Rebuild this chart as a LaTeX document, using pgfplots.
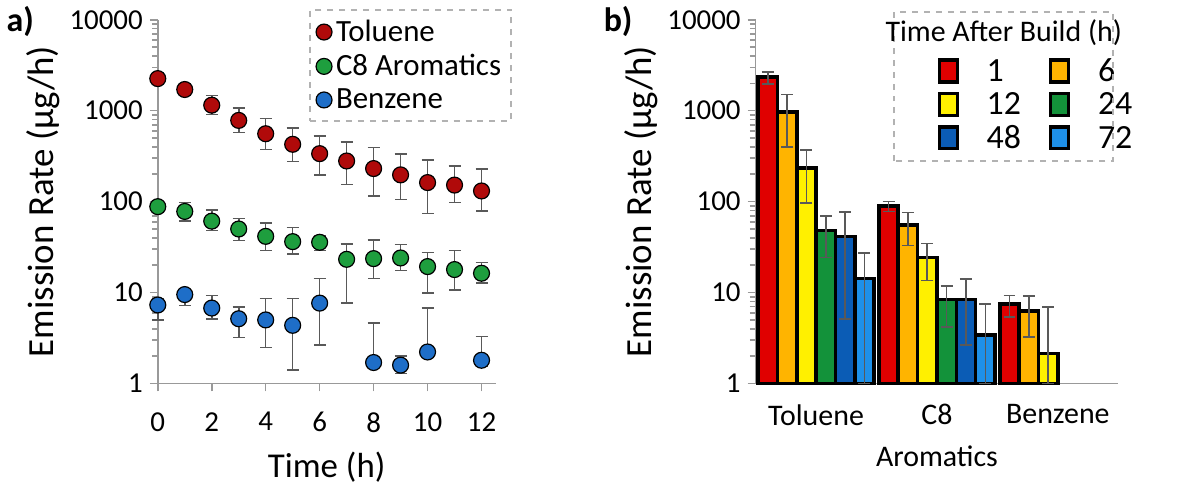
\documentclass[border=0pt]{standalone}
\usepackage{pgfplots}
\pgfplotsset{compat=1.18}
\usepackage{fontspec}
\setmainfont{Carlito}
\definecolor{tr}{RGB}{176,10,10}
\definecolor{cg}{RGB}{30,158,62}
\definecolor{bb}{RGB}{30,110,200}
\definecolor{b1}{RGB}{224,0,0}
\definecolor{b2}{RGB}{255,180,0}
\definecolor{b3}{RGB}{255,240,0}
\definecolor{b4}{RGB}{19,146,58}
\definecolor{b5}{RGB}{11,92,181}
\definecolor{b6}{RGB}{30,144,232}
\begin{document}
\begin{tikzpicture}
\path (0,0) rectangle (600pt,246.5pt);
% ---------- a) ----------
\begin{axis}[scale only axis, ymode=log, ymin=1, ymax=10000,
    axis x line*=bottom, axis y line*=left, axis line style={gray!80, line width=0.8pt},
    tick style={gray!80, line width=0.8pt}, tick align=outside, major tick length=4pt,
    ytick={1,10,100,1000,10000}, yticklabels={1,10,100,1000,10000},
    tick label style={font=\fontsize{14.5}{17}\selectfont},
    ylabel style={font=\fontsize{18.5}{22}\selectfont, yshift=-2pt},
    xlabel style={font=\fontsize{17.5}{21}\selectfont, yshift=-3pt},
    ylabel={Emission Rate (µg/h)}, clip=false,
  at={(77pt,56.5pt)}, anchor=south west, width=169.5pt, height=182.5pt,
  xmin=0, xmax=12.52, xtick={0,2,4,6,8,10,12}, xticklabels={0,2,4,6,8,10,12}, xlabel={Time (h)},
  xticklabel style={yshift=-7pt},
  legend style={at={(rel axis cs:0.448,1.03)}, anchor=north west, draw=gray!60, dashed, line width=1pt,
    font=\fontsize{15.5}{18}\selectfont, row sep=1pt, inner sep=3pt},
  legend cell align=left]
\addplot[only marks, mark=*, mark size=4pt, mark options={fill=tr, draw=black, solid, line width=0.6pt},
 error bars/.cd, y dir=both, y explicit, error bar style={gray!70!black, line width=0.8pt},
 error mark options={rotate=90, mark size=3pt, line width=0.8pt, gray!70!black}]
 table[y error plus expr=\thisrow{t}-\thisrow{y}, y error minus expr=\thisrow{y}-\thisrow{b}] {
x y t b
0 2255 2606 1940
1 1710 1990 1482
2 1150 1469 910
3 782 1077 573
4 558 822 376
5 427 650 275
6 337 527 195
7 280 453 155
8 231 393 116
9 197 332 106
10 162 285 74
11 152 247 98
12 131 227 79
};
\addlegendentry{Toluene}
\addplot[only marks, mark=*, mark size=4pt, mark options={fill=cg, draw=black, solid, line width=0.6pt},
 error bars/.cd, y dir=both, y explicit, error bar style={gray!70!black, line width=0.8pt},
 error mark options={rotate=90, mark size=3pt, line width=0.8pt, gray!70!black}]
 table[y error plus expr=\thisrow{t}-\thisrow{y}, y error minus expr=\thisrow{y}-\thisrow{b}] {
x y t b
0 88 95 82
1 78 98 61.6
2 61 80.7 47.9
3 50 65.3 37.2
4 41.5 58 28.9
5 36.3 52 26.6
6 35.7 42 28.9
7 23.2 34.2 7.7
8 23.6 37.9 14.2
9 24 33.6 17.5
10 19.3 27.7 9.9
11 17.9 28.9 10.7
12 16.3 21.4 12.7
};
\addlegendentry{C8 Aromatics}
\addplot[only marks, mark=*, mark size=4pt, mark options={fill=bb, draw=black, solid, line width=0.6pt},
 error bars/.cd, y dir=both, y explicit, error bar style={gray!70!black, line width=0.8pt},
 error mark options={rotate=90, mark size=3pt, line width=0.8pt, gray!70!black}]
 table[y error plus expr=\thisrow{t}-\thisrow{y}, y error minus expr=\thisrow{y}-\thisrow{b}] {
x y t b
0 7.3 8.5 5.0
1 9.5 10.5 7.2
2 6.75 9.3 5.15
3 5.15 6.9 3.19
4 5.0 8.6 2.48
5 4.36 8.6 1.40
6 7.65 14.2 2.63
8 1.70 4.62 1.52
9 1.59 2.0 1.29
10 2.22 6.8 2.0
12 1.80 3.3 1.55
};
\addlegendentry{Benzene}
\end{axis}
\node[font=\fontsize{17}{20}\selectfont\bfseries] at (8pt,238pt) {a)};
% ---------- b) ----------
\begin{axis}[scale only axis, ymode=log, ymin=1, ymax=10000,
    axis x line*=bottom, axis y line*=left, axis line style={gray!80, line width=0.8pt},
    tick style={gray!80, line width=0.8pt}, tick align=outside, major tick length=4pt,
    ytick={1,10,100,1000,10000}, yticklabels={1,10,100,1000,10000},
    tick label style={font=\fontsize{14.5}{17}\selectfont},
    ylabel style={font=\fontsize{18.5}{22}\selectfont, yshift=-2pt},
    ylabel={Emission Rate (µg/h)}, clip=false,
  at={(377pt,56.5pt)}, anchor=south west, width=182pt, height=182.5pt,
  xmin=-0.5, xmax=2.5, xtick={0,1,2}, xticklabels={Toluene,{C8\\Aromatics},Benzene},
  xticklabel style={align=center, yshift=-3pt, font=\fontsize{15}{21}\selectfont}, major x tick style={draw=none},
  extra x ticks={-0.5,0.5,1.5,2.5}, extra x tick labels={},
  extra x tick style={major tick length=6pt, tick style={gray!80, line width=0.8pt}},
  ybar, bar width=0.16, bar shift=0pt,
  legend style={at={(rel axis cs:0.49,0.915)}, anchor=north west, draw=none, fill=none,
    font=\fontsize{17}{19}\selectfont, column sep=12pt, row sep=0pt, inner sep=2pt},
  legend columns=2, legend cell align=left,
  legend image code/.code={\draw[#1, line width=1.6pt] (0pt,-5pt) rectangle (9pt,6pt);}]
\addplot[fill=b1, draw=black, line width=1.8pt,
 error bars/.cd, y dir=both, y explicit, error bar style={gray!70!black, line width=0.8pt},
 error mark options={rotate=90, mark size=3pt, line width=0.8pt, gray!70!black}]
 table[y error plus expr=\thisrow{t}-\thisrow{y}, y error minus expr=\thisrow{y}-\thisrow{b}] {
x y t b
-0.40 2355 2650 1973
0.60 90 100 78
1.60 7.5 9.3 5.4
};
\addlegendentry{1}
\addplot[fill=b2, draw=black, line width=1.8pt,
 error bars/.cd, y dir=both, y explicit, error bar style={gray!70!black, line width=0.8pt},
 error mark options={rotate=90, mark size=3pt, line width=0.8pt, gray!70!black}]
 table[y error plus expr=\thisrow{t}-\thisrow{y}, y error minus expr=\thisrow{y}-\thisrow{b}] {
x y t b
-0.24 973 1507 399
0.76 55.7 76 32.8
1.76 6.26 9.1 3.25
};
\addlegendentry{6}
\addplot[fill=b3, draw=black, line width=1.8pt,
 error bars/.cd, y dir=both, y explicit, error bar style={gray!70!black, line width=0.8pt},
 error mark options={rotate=90, mark size=3pt, line width=0.8pt, gray!70!black}]
 table[y error plus expr=\thisrow{t}-\thisrow{y}, y error minus expr=\thisrow{y}-\thisrow{b}] {
x y t b
-0.08 233 367 96
0.92 24.4 34.8 13.6
1.92 2.13 6.9 1.0
};
\addlegendentry{12}
\addplot[fill=b4, draw=black, line width=1.8pt,
 error bars/.cd, y dir=both, y explicit, error bar style={gray!70!black, line width=0.8pt},
 error mark options={rotate=90, mark size=3pt, line width=0.8pt, gray!70!black}]
 table[y error plus expr=\thisrow{t}-\thisrow{y}, y error minus expr=\thisrow{y}-\thisrow{b}] {
x y t b
0.08 47.9 70 24.4
1.08 8.4 11.8 4.2
};
\addlegendentry{24}
\addplot[fill=b5, draw=black, line width=1.8pt,
 error bars/.cd, y dir=both, y explicit, error bar style={gray!70!black, line width=0.8pt},
 error mark options={rotate=90, mark size=3pt, line width=0.8pt, gray!70!black}]
 table[y error plus expr=\thisrow{t}-\thisrow{y}, y error minus expr=\thisrow{y}-\thisrow{b}] {
x y t b
0.24 41.2 77.4 5.15
1.24 8.4 14 2.63
};
\addlegendentry{48}
\addplot[fill=b6, draw=black, line width=1.8pt,
 error bars/.cd, y dir=both, y explicit, error bar style={gray!70!black, line width=0.8pt},
 error mark options={rotate=90, mark size=3pt, line width=0.8pt, gray!70!black}]
 table[y error plus expr=\thisrow{t}-\thisrow{y}, y error minus expr=\thisrow{y}-\thisrow{b}] {
x y t b
0.40 14.2 27.3 1.0
1.40 3.39 7.5 1.0
};
\addlegendentry{72}
\end{axis}
\draw[gray!60, dashed, line width=1pt] (446.5pt,168pt) rectangle (556.5pt,243pt);
\node[font=\fontsize{15}{17}\selectfont] at (501.5pt,232.5pt) {Time After Build (h)};
\node[font=\fontsize{17}{20}\selectfont\bfseries] at (308pt,238pt) {b)};
\end{tikzpicture}
\end{document}
